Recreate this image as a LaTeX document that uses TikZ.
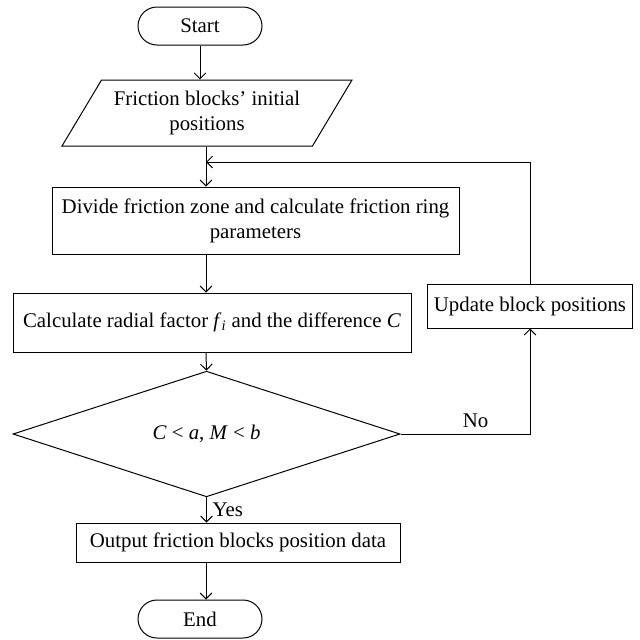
\documentclass[tikz,border=0pt]{standalone}
\usepackage{fontspec}
\setmainfont{Liberation Serif}
\usepackage{tikz}
\usetikzlibrary{shapes.geometric,arrows.meta}

\begin{document}
\begin{tikzpicture}[x=0.6pt,y=-0.6pt,line width=0.6pt,
    >={Straight Barb[length=3.5pt,width=7pt]},
    every node/.style={font=\fontsize{12.5}{15}\selectfont},
    terminal/.style={draw,rectangle,rounded corners=11.4pt,minimum width=74.4pt,minimum height=22.8pt,inner sep=0pt},
    io/.style={draw,trapezium,trapezium left angle=48,trapezium right angle=132,trapezium stretches body,minimum width=174pt,minimum height=39.6pt,inner sep=0pt,align=center},
    process/.style={draw,rectangle,align=center,inner sep=0pt},
    decision/.style={draw,diamond,minimum width=232.2pt,minimum height=52.8pt,inner sep=0pt}]

  \useasboundingbox (0,0) rectangle (640,640);

  \node[terminal]   (start)  at (200,26)    {Start};
  \node[io]         (input)  at (207,113)   {Friction blocks' initial\\positions};
  \node[process,minimum width=244.2pt,minimum height=40.2pt] (divide) at (255.5,220.5)
        {Divide friction zone and calculate friction ring\\parameters};
  \node[process,minimum width=238.8pt,minimum height=35.4pt] (radial) at (212,322.5)
        {Calculate radial factor \textit{f}\textsubscript{\textit{i}} and the difference \textit{C}};
  \node[decision]   (check)  at (206.5,434) {\textit{C} < \textit{a}, \textit{M} < \textit{b}};
  \node[process,minimum width=194.4pt,minimum height=23.4pt] (output) at (238,542.5)
        {Output friction blocks position data};
  \node[terminal]   (end)    at (200,619)   {End};
  \node[process,minimum width=123pt,minimum height=26.4pt] (update) at (530,306)
        {Update block positions};

  \coordinate (axis) at (206,0);
  \coordinate (back) at (530,162);

  % main line
  \draw[->] (start) -- (start |- input.north);
  \draw[->] (input.south -| axis) -- (divide.north -| axis);
  \draw[->] (divide.south -| axis) -- (radial.north -| axis);
  \draw[->] (radial.south -| axis) -- (check.north);
  \draw[->] (check.south) -- node[right] {Yes} (output.north -| check.south);
  \draw[->] (output.south -| axis) -- (end.north -| axis);

  % loop back
  \draw[->] (check.east) -- node[above,pos=.58] {No} (check.east -| update.south) -- (update.south);
  \draw[->] (update.north) -- (update.north |- back) -- (back -| axis);
\end{tikzpicture}
\end{document}
